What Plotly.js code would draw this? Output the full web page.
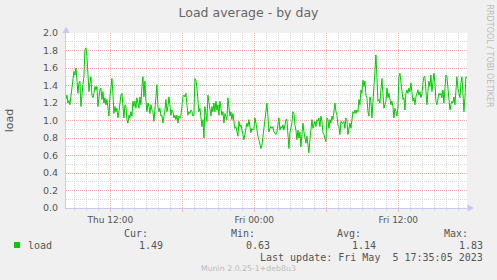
<!DOCTYPE html>
<html>
<head>
<meta charset="utf-8">
<script src="https://cdn.plot.ly/plotly-3.0.1.min.js"></script>
<style>
html,body{margin:0;padding:0;background:#F0F0F0;}
#chart{width:497px;height:280px;}
</style>
</head>
<body>
<div id="chart"></div>
<script>
// ---- data ----
const chartTitle = 'Load average - by day';
const seriesName = 'load';
const startTime = '2023-05-04T08:18:00';
const stepMinutes = 5;
const loadValues = [
1.24,1.29,1.2,1.23,1.18,1.27,1.35,1.5,1.56,1.52,1.6,1.46,1.31,1.43,1.45,1.16,1.35,1.41,1.5,1.81,
1.83,1.73,1.54,1.33,1.43,1.5,1.29,1.26,1.31,1.39,1.35,1.39,1.16,1.31,1.35,1.37,1.24,1.33,1.2,1.26,
1.18,1.24,1.16,1.05,1.27,1.43,1.48,1.31,1.08,1.16,1.1,1.14,1.03,1.1,1.2,1.29,1.31,1.12,1.03,1.18,
1.16,1.01,0.97,1.06,1.03,1.1,1.05,1.22,1.16,1.22,1.14,1.26,1.2,1.14,1.27,1.18,1.39,1.5,1.27,1.45,
1.22,1.1,1.2,1.16,1.08,1.18,1.12,1.1,0.99,1.1,1.27,1.41,1.16,1.1,1.14,1.05,1.06,0.97,1.03,1.12,
1.24,1.1,1.16,
1.27,1.18,1.06,1.12,1.1,1.03,1.06,1.01,1.06,0.97,1.05,1.03,1.06,1.16,1.27,1.29,1.27,1.31,1.2,1.06,
1.1,1.08,1.12,1.1,1.05,1.06,1.48,1.46,1.37,1.16,1.1,1.14,1.06,0.93,1.01,0.8,1.16,1.08,0.99,1.29,
1.22,1.12,1.05,1.16,1.1,1.2,1.1,1.22,1.12,1.18,1.06,1.22,1.16,1.06,1.1,0.97,1.08,1.03,1.01,1.26,
1.12,1.05,1.1,1.01,1.08,0.95,0.91,0.93,0.87,0.82,0.99,0.93,0.95,0.87,0.84,0.78,0.84,0.91,0.97,0.93,
1.01,0.93,0.86,0.91,0.89,0.91,1.03,0.97,0.87,0.82,0.78,0.7,0.68,0.72,0.82,0.91,0.97,1.1,1.2,
1.05,0.87,0.91,0.93,0.91,0.93,0.87,0.86,0.84,0.87,0.97,1.03,0.89,0.93,0.91,0.95,0.89,0.97,1.01,1.01,
0.87,0.68,0.86,0.91,0.97,1.1,1.08,0.95,0.89,0.78,0.89,0.8,0.87,0.7,0.91,0.97,0.87,0.8,0.74,0.82,
0.7,0.63,0.78,0.95,1.01,0.91,0.97,0.99,0.93,1.01,0.99,1.03,0.93,1.05,0.99,0.86,0.84,0.78,0.76,1.03,
1.01,0.91,1.01,0.97,1.05,1.01,1.14,1.2,1.1,1.06,0.95,0.93,0.84,0.99,0.97,0.97,0.99,0.91,1.03,1.01,
0.84,0.93,0.97,0.91,0.99,1.1,1.08,1.12,1.08,1.12,1.1,1.24,1.18,1.35,1.31,1.46,1.39,1.45,1.29,1.26,
1.1,
1.05,1.27,1.22,1.03,1.27,1.39,1.56,1.75,1.5,1.22,1.24,1.2,1.35,1.48,1.31,1.14,1.18,1.22,1.37,1.26,
1.31,1.26,1.18,1.22,1.16,1.03,1.14,1.1,1.05,1.14,1.5,1.54,1.41,1.29,1.24,1.26,1.12,1.31,1.35,1.31,
1.37,1.33,1.43,1.33,1.22,1.26,1.18,1.27,1.33,1.35,1.29,1.33,1.26,1.31,1.43,1.5,1.5,1.35,1.18,1.33,
1.45,1.39,1.52,1.33,1.43,1.54,1.43,1.22,1.18,1.27,1.31,1.29,1.31,1.26,1.35,1.2,1.43,1.52,1.5,1.35,
1.22,1.12,1.18,1.22,1.2,1.27,1.18,1.41,1.5,1.37,1.31,1.26,1.43,1.5,1.31,1.1,1.26,1.5,1.49
];
const xRange = ['2023-05-04 08:18:20', '2023-05-05 17:43:20'];
const xTickVals = ['2023-05-04 12:00','2023-05-04 18:00','2023-05-05 00:00','2023-05-05 06:00','2023-05-05 12:00'];
const xTickText = ['Thu 12:00','','Fri 00:00','','Fri 12:00'];
const yRange = [0, 2.0];
const statLabels = ['Cur:','Min:','Avg:','Max:'];
const statValues = ['1.49','0.63','1.14','1.83'];
const lastUpdate = 'Last update: Fri May\u00A0 5 17:35:05 2023';
const footer = 'Munin 2.0.25-1+deb8u3';
const sideText = 'RRDTOOL / TOBI OETIKER';

// ---- build timestamps ----
function fmt(d){
  const p = n => String(n).padStart(2,'0');
  return d.getFullYear()+'-'+p(d.getMonth()+1)+'-'+p(d.getDate())+' '+p(d.getHours())+':'+p(d.getMinutes())+':'+p(d.getSeconds());
}
const t0 = new Date(startTime);
const xTimes = loadValues.map((v,i) => fmt(new Date(t0.getTime() + i*stepMinutes*60000)));

// ---- layout geometry (pixels) ----
const W = 497, H = 280;
const M = {l:66, r:30, t:33, b:72};
const PW = W - M.l - M.r, PH = H - M.t - M.b;
const px = x => (x - M.l) / PW;
const py = y => (H - M.b - y) / PH;

const sans = 'DejaVu Sans, sans-serif';
const mono = 'DejaVu Sans Mono, monospace';
const txt = '#555555';
const majorGrid = '#F5B4B4';
const minorGrid = '#D9D9D9';
const axisCol = '#C8C8F4';

const trace = {
  x: xTimes, y: loadValues, type: 'scatter', mode: 'lines', name: seriesName,
  line: {color: '#00CC00', width: 1}, showlegend: false, hoverinfo: 'skip'
};

const annotations = [];
annotations.push({xref:'paper', yref:'paper', x:px(26), y:py(245.5), xanchor:'left', yanchor:'middle',
  text: seriesName, showarrow:false, font:{family:mono, size:10, color:txt}});
const hdrRight = [150, 257, 363, 470];
const valRight = [165, 272, 378, 485];
statLabels.forEach((s,i) => annotations.push({xref:'paper', yref:'paper', x:px(hdrRight[i]), y:py(233.5),
  xanchor:'right', yanchor:'middle', text:s, showarrow:false, font:{family:mono, size:10, color:txt}}));
statValues.forEach((s,i) => annotations.push({xref:'paper', yref:'paper', x:px(valRight[i]), y:py(245.5),
  xanchor:'right', yanchor:'middle', text:s, showarrow:false, font:{family:mono, size:10, color:txt}}));
annotations.push({xref:'paper', yref:'paper', x:px(485), y:py(257), xanchor:'right', yanchor:'middle',
  text:lastUpdate, showarrow:false, font:{family:mono, size:10, color:txt}});
annotations.push({xref:'paper', yref:'paper', x:px(248.5), y:py(268.5), xanchor:'center', yanchor:'middle',
  text:footer, showarrow:false, font:{family:sans, size:7.8, color:'#BBBBBB'}});
annotations.push({xref:'paper', yref:'paper', x:px(489), y:py(56.5), xanchor:'center', yanchor:'middle',
  text:sideText, textangle:90, showarrow:false, font:{family:sans, size:8, color:'#BBBBBB'}});

const shapes = [
  {type:'rect', xref:'paper', yref:'paper', x0:px(14), x1:px(20), y0:py(248), y1:py(242),
   fillcolor:'#00CC00', line:{width:0}},
  {type:'path', xref:'paper', yref:'paper',
   path:`M ${px(62.5)} ${py(33)} L ${px(66)} ${py(26.5)} L ${px(69.5)} ${py(33)} Z`,
   fillcolor:axisCol, line:{width:0}},
  {type:'path', xref:'paper', yref:'paper',
   path:`M ${px(467.5)} ${py(204.5)} L ${px(474)} ${py(208)} L ${px(467.5)} ${py(211.5)} Z`,
   fillcolor:axisCol, line:{width:0}}
];

const layout = {
  width: W, height: H,
  margin: M,
  paper_bgcolor: '#F0F0F0',
  plot_bgcolor: '#FFFFFF',
  title: {text: chartTitle, xref:'container', yref:'container', x:0.5, xanchor:'center',
          y: 1 - 13/H, yanchor:'middle', font:{family:sans, size:12.5, color:'#666666'}},
  xaxis: {
    type:'date', range:xRange, tickmode:'array', tickvals:xTickVals, ticktext:xTickText,
    showgrid:true, gridcolor:majorGrid, gridwidth:1, griddash:'1px,1px',
    ticks:'outside', ticklen:3, tickcolor:majorGrid, tickwidth:1,
    minor:{tickmode:'linear', tick0:'2023-05-04 00:00', dtick:3600000, showgrid:true,
           gridcolor:minorGrid, gridwidth:1, griddash:'1px,1px', ticks:'outside', ticklen:2, tickcolor:minorGrid},
    showline:true, linecolor:axisCol, linewidth:1, zeroline:false,
    tickfont:{family:sans, size:9, color:txt}, automargin:false, fixedrange:true
  },
  yaxis: {
    range:yRange, tickmode:'linear', tick0:0, dtick:0.2, tickformat:'.1f',
    showgrid:true, gridcolor:majorGrid, gridwidth:1, griddash:'1px,1px',
    minor:{tickmode:'linear', tick0:0, dtick:0.1, showgrid:true, gridcolor:minorGrid, gridwidth:1, griddash:'1px,1px'},
    showline:true, linecolor:axisCol, linewidth:1, zeroline:false,
    ticks:'', ticklabelstandoff:5,
    tickfont:{family:sans, size:9.5, color:txt},
    title:{text:seriesName, standoff:27, font:{family:sans, size:11, color:txt}},
    automargin:false, fixedrange:true
  },
  annotations: annotations,
  shapes: shapes,
  showlegend:false
};

Plotly.newPlot('chart', [trace], layout, {displayModeBar:false, staticPlot:true});
</script>
</body>
</html>
